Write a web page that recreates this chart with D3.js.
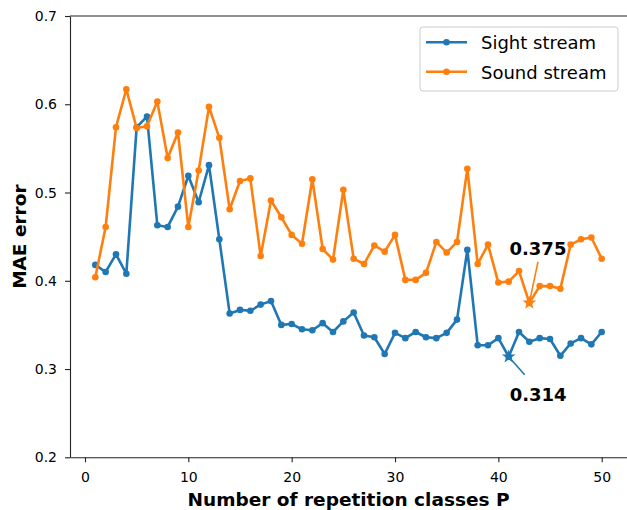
<!DOCTYPE html>
<html>
<head>
<meta charset="utf-8">
<script src="https://cdn.jsdelivr.net/npm/d3@7"></script>
<style>
  html, body { margin: 0; padding: 0; background: #fff; }
  svg { display: block; font-family: "DejaVu Sans", sans-serif; }
</style>
</head>
<body>
<div id="chart"></div>
<script>
// repetition classes P
const classes = [1, 2, 3, 4, 5, 6, 7, 8, 9, 10, 11, 12, 13, 14, 15, 16, 17, 18, 19, 20,
  21, 22, 23, 24, 25, 26, 27, 28, 29, 30, 31, 32, 33, 34, 35, 36, 37, 38, 39, 40,
  41, 42, 43, 44, 45, 46, 47, 48, 49, 50]

const sightMae = [0.418, 0.410, 0.430, 0.408, 0.574, 0.586, 0.463, 0.461, 0.484, 0.519,
  0.489, 0.531, 0.447, 0.363, 0.367, 0.366, 0.373, 0.377, 0.350, 0.351,
  0.345, 0.344, 0.352, 0.342, 0.354, 0.364, 0.338, 0.336, 0.317, 0.341,
  0.335, 0.342, 0.336, 0.335, 0.341, 0.356, 0.435, 0.327, 0.327, 0.335,
  0.314, 0.342, 0.331, 0.335, 0.334, 0.315, 0.329, 0.335, 0.328, 0.342]

const soundMae = [0.404, 0.461, 0.574, 0.617, 0.573, 0.575, 0.603, 0.539, 0.568, 0.461,
  0.525, 0.597, 0.562, 0.481, 0.513, 0.516, 0.428, 0.491, 0.472, 0.452,
  0.442, 0.515, 0.436, 0.424, 0.503, 0.425, 0.419, 0.440, 0.433, 0.452,
  0.401, 0.401, 0.409, 0.444, 0.432, 0.444, 0.527, 0.419, 0.441, 0.398,
  0.399, 0.411, 0.375, 0.394, 0.394, 0.391, 0.441, 0.447, 0.449, 0.425]

const xTicks = [0, 10, 20, 30, 40, 50]
const yTicks = [0.2, 0.3, 0.4, 0.5, 0.6, 0.7]

const series = [
  {name: "Sight stream", values: sightMae, color: "#1f77b4"},
  {name: "Sound stream", values: soundMae, color: "#ff7f0e"},
]

const width = 627
const height = 510
const m = {left: 70, right: 627, top: 16, bottom: 457.3}

const x = d3.scaleLinear().domain([-1.45, 52.45]).range([m.left, m.right])
const y = d3.scaleLinear().domain([0.2, 0.7]).range([m.bottom, m.top])

const svg = d3.select("#chart").append("svg")
  .attr("width", width)
  .attr("height", height)

const plot = svg.append("g")

const line = d3.line()
  .x((d, i) => x(classes[i]))
  .y(d => y(d))

series.forEach(s => {
  const g = plot.append("g")
  g.append("path")
    .datum(s.values)
    .attr("fill", "none")
    .attr("stroke", s.color)
    .attr("stroke-width", 2.6)
    .attr("stroke-linejoin", "round")
    .attr("d", line)
  g.selectAll("circle")
    .data(s.values)
    .join("circle")
    .attr("cx", (d, i) => x(classes[i]))
    .attr("cy", d => y(d))
    .attr("r", 3.3)
    .attr("fill", s.color)
})

// best value of each stream: star + label
const annotations = [
  {s: series[0], text: [29.5, 44], line: [16, 18]},
  {s: series[1], text: [8.6, -48], line: [8.6, -41]},
]

annotations.forEach(a => {
  const vals = a.s.values
  const best = d3.minIndex(vals)
  const px = x(classes[best]), py = y(vals[best])
  plot.append("line")
    .attr("x1", px + a.line[0]).attr("y1", py + a.line[1])
    .attr("x2", px).attr("y2", py)
    .attr("stroke", a.s.color)
    .attr("stroke-width", 1.6)
  plot.append("path")
    .attr("d", d3.symbol(d3.symbolStar, 60)())
    .attr("transform", `translate(${px},${py})`)
    .attr("fill", a.s.color)
  plot.append("text")
    .attr("x", px + a.text[0]).attr("y", py + a.text[1])
    .attr("text-anchor", "middle")
    .attr("font-size", 18)
    .attr("font-weight", "bold")
    .text(vals[best].toFixed(3))
})

// axes
const xAxis = svg.append("g")
  .attr("transform", `translate(0,${m.bottom})`)
  .call(d3.axisBottom(x).tickValues(xTicks).tickSize(5).tickPadding(10).tickSizeOuter(0))
xAxis.select(".domain").attr("stroke", "#222").attr("stroke-width", 1.1)
xAxis.selectAll(".tick line").attr("stroke", "#222").attr("stroke-width", 1.1)
xAxis.selectAll(".tick text").attr("font-size", 14).attr("font-family", "DejaVu Sans").attr("fill", "#000")

const yAxis = svg.append("g")
  .attr("transform", `translate(${m.left},0)`)
  .call(d3.axisLeft(y).tickValues(yTicks).tickFormat(d3.format(".1f")).tickSize(5).tickPadding(8).tickSizeOuter(0))
yAxis.select(".domain").attr("stroke", "#222").attr("stroke-width", 1.1)
yAxis.selectAll(".tick line").attr("stroke", "#222").attr("stroke-width", 1.1)
yAxis.selectAll(".tick text").attr("font-size", 14).attr("font-family", "DejaVu Sans").attr("fill", "#000")

svg.append("line")
  .attr("x1", m.left).attr("x2", m.right)
  .attr("y1", m.top).attr("y2", m.top)
  .attr("stroke", "#222").attr("stroke-width", 1.1)

svg.append("text")
  .attr("x", (m.left + m.right) / 2).attr("y", 506)
  .attr("text-anchor", "middle")
  .attr("font-size", 18.5).attr("font-weight", "bold")
  .text("Number of repetition classes P")

svg.append("text")
  .attr("transform", `translate(25.5,${(m.top + m.bottom) / 2}) rotate(-90)`)
  .attr("text-anchor", "middle")
  .attr("font-size", 18.5).attr("font-weight", "bold")
  .text("MAE error")

// legend
const legend = svg.append("g").attr("transform", "translate(420,27)")
legend.append("rect")
  .attr("width", 198).attr("height", 64).attr("rx", 3)
  .attr("fill", "#fff").attr("fill-opacity", 0.8)
  .attr("stroke", "#cccccc").attr("stroke-width", 1)

series.forEach((s, i) => {
  const row = legend.append("g").attr("transform", `translate(0,${15.3 + i * 29.4})`)
  row.append("line")
    .attr("x1", 6).attr("x2", 47)
    .attr("stroke", s.color).attr("stroke-width", 2.6)
  row.append("circle")
    .attr("cx", 26.5).attr("r", 3.3).attr("fill", s.color)
  row.append("text")
    .attr("x", 61).attr("y", 7)
    .attr("font-size", 18)
    .text(s.name)
})
</script>
</body>
</html>
